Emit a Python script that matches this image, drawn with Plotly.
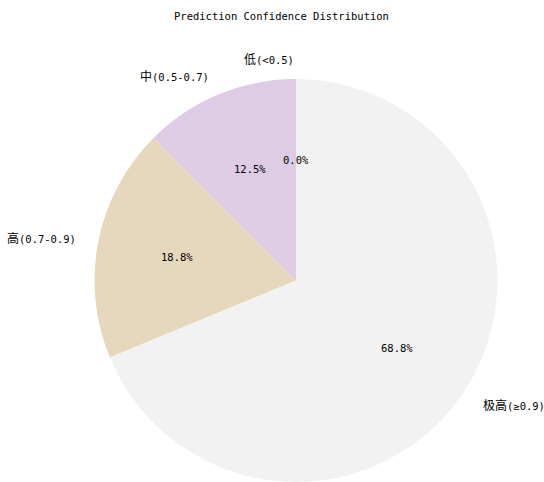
import math
import re
import plotly.graph_objects as go

labels = ["低(<0.5)", "中(0.5-0.7)", "高(0.7-0.9)", "极高(≥0.9)"]
values = [0, 2, 3, 11]
colors = ["#fbb4ae", "#decbe4", "#e5d8bd", "#f2f2f2"]
title = "Prediction Confidence Distribution"

W, H = 544, 482
FONT = "DejaVu Sans Mono, Noto Sans CJK SC, sans-serif"

# pie geometry (pixels)
cx, cy, r = 296, 281, 202
dom_x = [(cx - r) / W, (cx + r) / W]
dom_y = [max(0, (H - cy - r) / H), (H - cy + r) / H]


def cjk_big(t):
    return re.sub(r"([\u4e00-\u9fff]+)",
                  r"<span style='font-family:Noto Sans CJK SC;font-size:12px'>\1</span>", t)


fig = go.Figure(go.Pie(
    labels=labels, values=values, sort=False, direction="counterclockwise",
    rotation=0, marker=dict(colors=colors, line=dict(width=0)),
    textinfo="none", hoverinfo="label+percent", showlegend=False,
    domain=dict(x=dom_x, y=dom_y),
))

total = sum(values)
ann = []
start = 90.0
for lab, v in zip(labels, values):
    frac = v / total
    mid = math.radians(start + 360 * frac / 2)
    start += 360 * frac
    c, s = math.cos(mid), math.sin(mid)
    # percent label at 0.6 r
    px, py = cx + 0.6 * r * c, cy - 0.6 * r * s
    ann.append(dict(x=px / W, y=1 - py / H, xref="paper", yref="paper",
                    text=f"{100*frac:.1f}%", showarrow=False,
                    xanchor="center", yanchor="middle",
                    font=dict(family=FONT, size=10.5, color="#000")))
    # outside label at 1.1 r
    lx, ly = cx + 1.1 * r * c, cy - 1.1 * r * s
    ann.append(dict(x=lx / W, y=1 - ly / H, xref="paper", yref="paper",
                    text=cjk_big(lab), showarrow=False,
                    xanchor="left" if c > 1e-9 else "right", yanchor="middle",
                    font=dict(family=FONT, size=10.5, color="#000")))

ann.append(dict(x=281 / W, y=1 - 16 / H, xref="paper", yref="paper",
                text=title, showarrow=False, xanchor="center", yanchor="middle",
                font=dict(family=FONT, size=10.5, color="#000")))

fig.update_layout(width=W, height=H, margin=dict(l=0, r=0, t=0, b=0),
                  paper_bgcolor="white", plot_bgcolor="white",
                  annotations=ann)
fig.write_html("out.html")
